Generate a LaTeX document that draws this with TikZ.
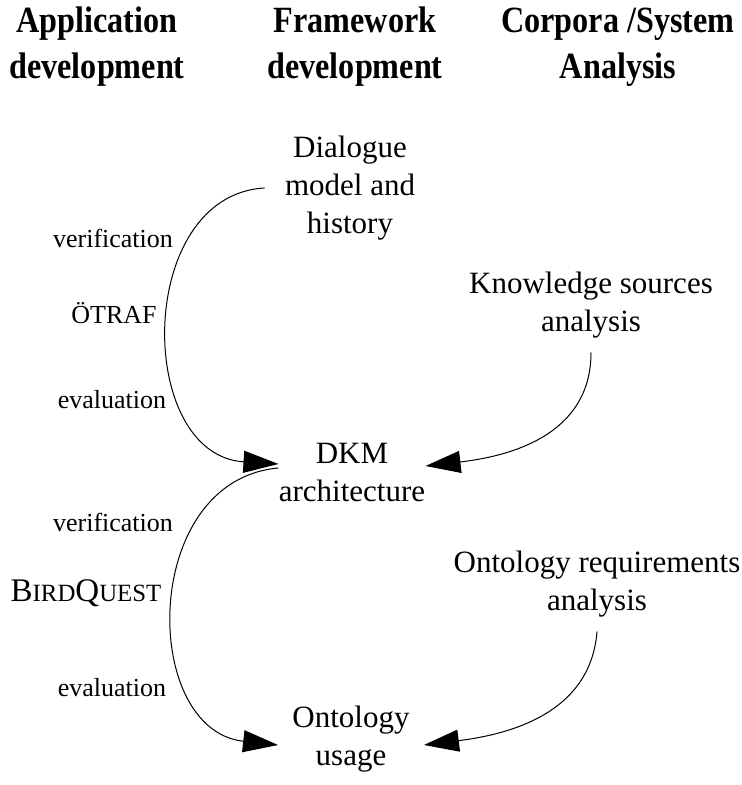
\documentclass[tikz,border=0pt]{standalone}
\usepackage{fontspec}
\setmainfont{Liberation Serif}
\newfontfamily\headfont[FakeStretch=0.87]{Liberation Serif}
\usetikzlibrary{arrows.meta}
\newcommand{\minicaps}[1]{{\fontsize{12.4}{14}\selectfont #1}}

\begin{document}
\begin{tikzpicture}[x=0.5pt,y=-0.5pt,
  heading/.style={align=center,inner sep=0pt,
    font=\headfont\bfseries\fontsize{18.5}{23}\selectfont},
  topic/.style={align=center,inner sep=0pt,
    font=\fontsize{15.5}{19}\selectfont},
  sidelabel/.style={inner sep=0pt,font=\fontsize{13}{16}\selectfont},
  flow/.style={-{Triangle[length=17.5pt,width=11pt]},line width=.5pt}
]
\useasboundingbox (0,0) rectangle (742,785);

% Column headings.
\node[heading] (apphead) at (97,47) {Application\\development};
\node[heading] (framehead) at (355,47) {Framework\\development};
\node[heading] (corphead) at (618,47) {Corpora /System\\Analysis};

% Framework column.
\node[topic] (dialogue) at (350,188) {Dialogue\\model and\\history};
\node[topic] (dkm) at (352,472) {DKM\\architecture};
\node[topic] (usage) at (351,739) {Ontology\\usage};

% Corpora column.
\node[topic] (knowsrc) at (591,305) {Knowledge sources\\analysis};
\node[topic] (ontreq) at (597,584) {Ontology requirements\\analysis};

% Application column labels.
\node[sidelabel] (verif1) at (113,238) {verification};
\node[sidelabel] (otraf) at (114,313) {ÖTRAF};
\node[sidelabel] (eval1) at (112,400) {evaluation};
\node[sidelabel] (verif2) at (113,522) {verification};
\node[topic,font=\fontsize{16.5}{19}\selectfont] (birdquest) at (86,593)
  {B\minicaps{IRD}Q\minicaps{UEST}};
\node[sidelabel] (eval2) at (112,688) {evaluation};

% Loops through the applications.
\draw[flow] ([xshift=-10pt]dialogue.west) .. controls (135,195) and (135,455)
  .. ([yshift=4pt]dkm.west);
\draw[flow] ([yshift=2pt]dkm.west) .. controls (140,480) and (140,730)
  .. ([xshift=-7pt,yshift=-3pt]usage.west);

% Input from the corpora analyses.
\draw[flow] ([yshift=-7pt]knowsrc.south) .. controls (591,430) and (520,455)
  .. ([yshift=3pt]dkm.east);
\draw[flow] ([yshift=-7pt]ontreq.south) .. controls (591,708) and (520,733)
  .. ([xshift=7pt,yshift=-3pt]usage.east);
\end{tikzpicture}
\end{document}
